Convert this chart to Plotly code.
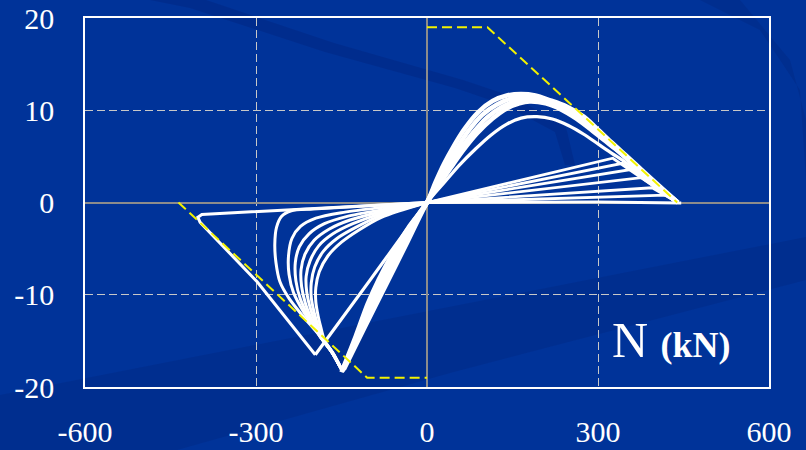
import plotly.graph_objects as go

# ---------------- axis ticks ----------------
x_ticks = [-600, -300, 0, 300, 600]
x_tick_labels = ["-600", "-300", "0", "300", "600"]
y_ticks = [-20, -10, 0, 10, 20]
y_tick_labels = ["-20", "-10", "0", "10", "20"]

# ---------------- yellow interaction envelope ----------------
env_pos_x = [0, 106, 439]
env_pos_y = [19, 19, 0]
env_neg_x = [-436, -105, 0]
env_neg_y = [0, -19, -19]

# ---------------- thick band of cycles (negative tail -> origin -> hump -> envelope) ----------------
band_a_x = [-150, -125, -104, -85, -60, -30, 0, 15, 30, 45, 65, 90, 115, 140, 165, 190, 215, 245, 275, 300, 325, 350, 380, 410, 440]
band_a_y = [-18.4, -14.5, -11.0, -8.4, -5.5, -2.5, 0, 2.2, 4.2, 5.9, 7.9, 9.8, 11.0, 11.6, 11.75, 11.6, 11.1, 10.4, 9.3, 7.9, 6.45, 5.05, 3.35, 1.65, 0]

band_b_x = [-149, -120, -97, -78, -52, -25, 0, 17, 35, 52, 72, 97, 122, 147, 172, 197, 222, 250, 278, 302, 326, 350, 380, 410, 440]
band_b_y = [-18.3, -14.2, -10.6, -8.0, -5.0, -2.2, 0, 2.1, 4.1, 5.8, 7.7, 9.5, 10.6, 11.25, 11.45, 11.3, 10.75, 9.8, 8.7, 7.6, 6.2, 4.9, 3.2, 1.55, 0]

band_c_x = [-148, -115, -88, -66, -42, -20, 0, 19, 39, 58, 80, 105, 130, 154, 176, 202, 228, 255, 282, 305, 328, 350, 380, 410, 440]
band_c_y = [-18.2, -13.9, -10.1, -7.4, -4.4, -1.9, 0, 2.0, 3.9, 5.7, 7.5, 9.2, 10.3, 10.95, 11.2, 11.0, 10.4, 9.5, 8.3, 7.2, 6.0, 4.8, 3.1, 1.5, 0]

band_d_x = [-146, -110, -73, -37, 0, 21, 42, 64, 88, 115, 140, 162, 180, 208, 235, 262, 288, 310, 331, 352, 380, 410, 440]
band_d_y = [-18.1, -13.6, -9.05, -4.6, 0, 1.9, 3.8, 5.7, 7.5, 9.1, 10.2, 10.75, 10.95, 10.75, 10.1, 9.1, 7.9, 6.8, 5.8, 4.7, 3.0, 1.45, 0]

# ---------------- first cycle: return line and lower hump ----------------
hump_e_x = [-196, -98, 0, 28, 56, 85, 112, 140, 165, 193, 220, 248, 275, 300, 325, 345, 375, 410, 440]
hump_e_y = [-16.5, -8.25, 0, 2.0, 4.0, 5.8, 7.3, 8.5, 9.15, 9.3, 9.05, 8.35, 7.4, 6.35, 5.3, 4.5, 3.1, 1.4, 0]

outer_x = [0, -395, -402, -398, -298, -196]
outer_y = [0, -1.3, -1.6, -2.15, -8.6, -16.5]

# ---------------- straight fan lines (positive side) ----------------
fan_end_x = [326, 343, 360, 376, 395, 418]
fan_end_y = [4.8, 4.25, 3.6, 2.7, 1.6, 0.8]
fan_tip_x = 440
fan_tip_y = 0

base_x = [0, 300, 446]
base_y = [0, 0.05, -0.05]

# ---------------- nested loops (negative side) ----------------
loops_x = [
    [0, -100, -200, -238, -255, -264, -267, -265, -258, -242, -218, -190, -165, -149],
    [0, -80, -150, -195, -222, -237, -243, -242, -234, -216, -192, -166, -149],
    [0, -80, -140, -180, -207, -224, -231, -230, -222, -207, -190, -166, -149],
    [0, -80, -135, -172, -198, -214, -221, -220, -213, -201, -188, -166, -149],
    [0, -80, -130, -165, -190, -205, -212, -211, -205, -196, -186, -166, -149],
    [0, -80, -125, -158, -182, -197, -203, -203, -198, -191, -184, -166, -149],
    [0, -80, -120, -150, -174, -189, -195, -195, -191, -186, -180, -166, -149],
]
loops_y = [
    [0, -0.35, -0.7, -0.9, -1.5, -2.7, -4.5, -6.5, -8.6, -10.4, -12.3, -14.3, -16.3, -18.2],
    [0, -0.55, -1.1, -1.7, -2.6, -3.9, -5.8, -7.8, -9.8, -11.9, -14.1, -16.3, -18.2],
    [0, -0.8, -1.5, -2.3, -3.4, -4.8, -6.5, -8.5, -10.5, -12.5, -14.3, -16.3, -18.2],
    [0, -1.0, -1.9, -2.9, -4.1, -5.6, -7.3, -9.1, -11.0, -12.9, -14.5, -16.3, -18.2],
    [0, -1.2, -2.3, -3.4, -4.7, -6.3, -8.0, -9.7, -11.4, -13.1, -14.6, -16.3, -18.2],
    [0, -1.4, -2.7, -3.9, -5.3, -7.0, -8.7, -10.3, -11.9, -13.4, -14.7, -16.3, -18.2],
    [0, -1.6, -3.0, -4.3, -5.8, -7.5, -9.2, -10.8, -12.3, -13.6, -14.9, -16.3, -18.2],
]

BG = "#003399"
WHITE = "#ffffff"
YELLOW = "#f2f200"

fig = go.Figure()


def add_line(x, y, width, shape="spline", color=WHITE, dash=None):
    fig.add_trace(go.Scatter(
        x=x, y=y, mode="lines",
        line=dict(color=color, width=width, shape=shape, smoothing=0.8 if shape == "spline" else None, dash=dash),
        hoverinfo="skip", showlegend=False,
    ))


for lx, ly in zip(loops_x, loops_y):
    add_line(lx, ly, 3)

add_line(outer_x, outer_y, 3, shape="linear")
add_line(base_x, base_y, 3, shape="linear")
for fx, fy in zip(fan_end_x, fan_end_y):
    add_line([0, fx, fan_tip_x], [0, fy, fan_tip_y], 2.8, shape="linear")

add_line(hump_e_x, hump_e_y, 3.2)
for bx, by in [(band_a_x, band_a_y), (band_b_x, band_b_y), (band_c_x, band_c_y), (band_d_x, band_d_y)]:
    add_line(bx, by, 4.6)

add_line(env_pos_x, env_pos_y, 2, shape="linear", color=YELLOW, dash="10px,5px")
add_line(env_neg_x, env_neg_y, 2, shape="linear", color=YELLOW, dash="10px,5px")

# ---------------- decorative background swooshes (pixel -> paper) ----------------
L, R, T, B = 85, 769, 18, 387


def px2paper(px, py):
    return (px - L) / (R - L), (B - py) / (B - T)


def path_from(points, close=True):
    parts = []
    for i, (px, py) in enumerate(points):
        xp, yp = px2paper(px, py)
        parts.append(("M" if i == 0 else "L") + f"{xp:.4f},{yp:.4f}")
    return " ".join(parts) + (" Z" if close else "")


shapes = [
    dict(type="path", xref="paper", yref="paper", layer="below",
         path=path_from([(0, 395), (806, 237), (806, 280), (450, 373), (0, 500)]),
         fillcolor="rgba(0,25,100,0.18)", line=dict(width=0)),
    dict(type="path", xref="paper", yref="paper", layer="below",
         path=path_from([(150, 0), (206, 0), (334, 43), (463, 80), (514, 97), (566, 127), (575, 165),
                         (565, 165), (555, 132), (505, 105), (455, 88), (325, 52), (190, 8)]),
         fillcolor="rgba(0,25,100,0.22)", line=dict(width=0)),
    dict(type="path", xref="paper", yref="paper", layer="below",
         path=path_from([(700, 0), (760, 30), (800, 90), (806, 180), (806, 120), (790, 60), (740, 0)]),
         fillcolor="rgba(0,25,100,0.18)", line=dict(width=0)),
]

axis_font = dict(family="Liberation Serif, Times New Roman, serif", size=30, color=WHITE)

fig.update_layout(
    width=806, height=450,
    margin=dict(l=L, r=806 - R, t=T, b=450 - B, autoexpand=False),
    paper_bgcolor=BG, plot_bgcolor="rgba(0,0,0,0)",
    showlegend=False, hovermode=False,
    shapes=shapes,
    xaxis=dict(
        range=[-600, 600], tickvals=x_ticks, ticktext=x_tick_labels,
        showgrid=True, gridcolor="#c8c8c8", gridwidth=1, griddash="8px,4px",
        zeroline=True, zerolinecolor="#8c8c8c", zerolinewidth=1.5,
        showline=True, linecolor=WHITE, linewidth=1.5, mirror=True,
        ticks="", tickfont=axis_font, ticklabelstandoff=17, fixedrange=True,
        automargin=False,
    ),
    yaxis=dict(
        range=[-20, 20], tickvals=y_ticks, ticktext=y_tick_labels,
        showgrid=True, gridcolor="#c8c8c8", gridwidth=1, griddash="8px,4px",
        zeroline=True, zerolinecolor="#8c8c8c", zerolinewidth=1.5,
        showline=True, linecolor=WHITE, linewidth=1.5, mirror=True,
        ticks="", tickfont=axis_font, ticklabelstandoff=23, fixedrange=True,
        automargin=False,
    ),
    annotations=[dict(
        xref="paper", yref="paper", x=px2paper(610, 0)[0], y=px2paper(0, 340)[1],
        xanchor="left", yanchor="middle", showarrow=False,
        text="N <span style='font-size:36px'><b>(kN)</b></span>",
        font=dict(family="Liberation Serif, Times New Roman, serif", size=50, color=WHITE),
    )],
)

fig.write_html("out.html")
